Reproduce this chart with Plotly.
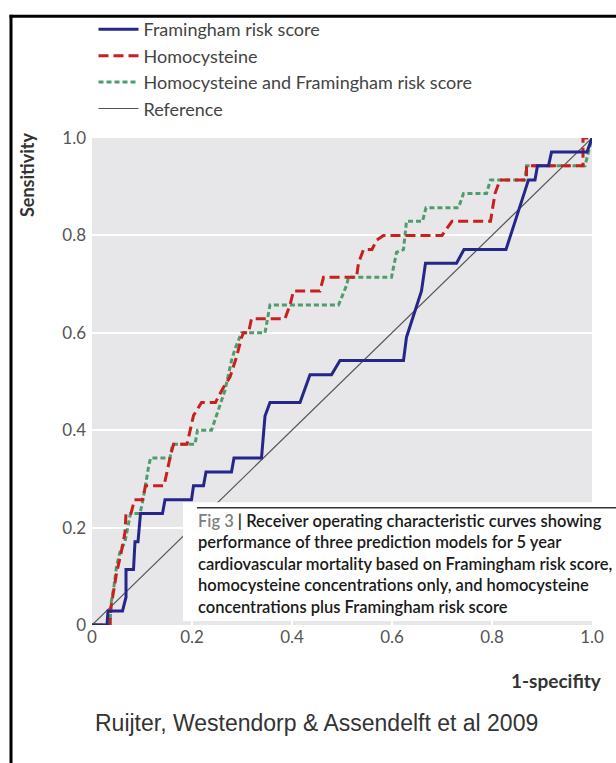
import plotly.graph_objects as go

# ---------------- data ----------------
fram_x = [0, 0.030, 0.032, 0.061, 0.068, 0.068, 0.083, 0.086, 0.092, 0.097, 0.141, 0.146,
          0.199, 0.203, 0.223, 0.228, 0.279, 0.284, 0.339, 0.346, 0.356, 0.416, 0.436,
          0.479, 0.496, 0.623, 0.629, 0.659, 0.667, 0.729, 0.744, 0.828, 0.873, 0.886,
          0.891, 0.913, 0.919, 0.990, 1.0]
fram_y = [0, 0, 0.029, 0.029, 0.057, 0.114, 0.114, 0.171, 0.171, 0.229, 0.229, 0.257,
          0.257, 0.286, 0.286, 0.314, 0.314, 0.343, 0.343, 0.429, 0.457, 0.457, 0.514,
          0.514, 0.543, 0.543, 0.591, 0.686, 0.743, 0.743, 0.771, 0.771, 0.914, 0.914,
          0.943, 0.943, 0.971, 0.971, 1.0]

hcy_x = [0, 0.036, 0.038, 0.049, 0.058, 0.066, 0.068, 0.078, 0.085, 0.101, 0.107, 0.144,
         0.156, 0.163, 0.190, 0.196, 0.203, 0.219, 0.247, 0.256, 0.263, 0.276, 0.289,
         0.299, 0.303, 0.313, 0.319, 0.386, 0.396, 0.403, 0.456, 0.463, 0.529, 0.533,
         0.543, 0.560, 0.569, 0.583, 0.700, 0.720, 0.797, 0.806, 0.816, 0.869, 0.869,
         0.982, 0.982, 1.0]
hcy_y = [0, 0, 0.037, 0.106, 0.147, 0.190, 0.229, 0.229, 0.257, 0.257, 0.286, 0.286,
         0.343, 0.371, 0.371, 0.400, 0.430, 0.457, 0.457, 0.475, 0.488, 0.509, 0.550,
         0.590, 0.600, 0.600, 0.629, 0.629, 0.657, 0.686, 0.686, 0.714, 0.714, 0.743,
         0.771, 0.771, 0.790, 0.800, 0.800, 0.829, 0.829, 0.886, 0.914, 0.914, 0.943,
         0.943, 1.0, 1.0]

comb_x = [0, 0.036, 0.038, 0.044, 0.049, 0.056, 0.066, 0.077, 0.096, 0.102, 0.113,
          0.117, 0.156, 0.161, 0.206, 0.211, 0.239, 0.256, 0.266, 0.279, 0.286, 0.299,
          0.346, 0.356, 0.493, 0.509, 0.513, 0.599, 0.609, 0.623, 0.629, 0.661, 0.668,
          0.733, 0.743, 0.789, 0.797, 0.866, 0.869, 0.986, 1.0]
comb_y = [0, 0, 0.044, 0.080, 0.120, 0.150, 0.171, 0.229, 0.229, 0.257, 0.324,
          0.343, 0.343, 0.371, 0.371, 0.400, 0.400, 0.454, 0.482, 0.543, 0.567, 0.600,
          0.600, 0.657, 0.657, 0.697, 0.714, 0.714, 0.765, 0.771, 0.829, 0.829, 0.857,
          0.857, 0.886, 0.886, 0.914, 0.914, 0.943, 0.943, 1.0]

ref_x = [0, 1]
ref_y = [0, 1]

tick_vals = [0, 0.2, 0.4, 0.6, 0.8, 1.0]
tick_text = ["0", "0.2", "0.4", "0.6", "0.8", "1.0"]

names = ["Framingham risk score", "Homocysteine",
         "Homocysteine and Framingham risk score", "Reference"]

caption_lines = [
    "<span style='color:#808080'>Fig 3</span> | Receiver operating characteristic curves showing",
    "performance of three prediction models for 5 year",
    "cardiovascular mortality based on Framingham risk score,",
    "homocysteine concentrations only, and homocysteine",
    "concentrations plus Framingham risk score",
]
source_text = "Ruijter, Westendorp & Assendelft et al 2009"

# ---------------- figure ----------------
fig = go.Figure()
fig.add_trace(go.Scatter(x=ref_x, y=ref_y, mode="lines", name=names[3], legendrank=4,
                         line=dict(color="#555555", width=1.2)))
fig.add_trace(go.Scatter(x=comb_x, y=comb_y, mode="lines", name=names[2], legendrank=3,
                         line=dict(color="#4f9c6c", width=3, dash="5px,3px")))
fig.add_trace(go.Scatter(x=hcy_x, y=hcy_y, mode="lines", name=names[1], legendrank=2,
                         line=dict(color="#c8201e", width=3, dash="10px,5px")))
fig.add_trace(go.Scatter(x=fram_x, y=fram_y, mode="lines", name=names[0], legendrank=1,
                         line=dict(color="#25258a", width=3)))

tick_font = dict(family="Lato", size=17, color="#555555")

fig.update_layout(
    width=616, height=763,
    margin=dict(l=92, r=24, t=137, b=138),
    paper_bgcolor="white", plot_bgcolor="#e7e6e8",
    showlegend=True,
    xaxis=dict(range=[0, 1], tickvals=tick_vals, ticktext=tick_text, showgrid=False,
               zeroline=False, showline=False, ticks="inside", tickcolor="white",
               ticklen=6, tickwidth=2, tickfont=tick_font),
    yaxis=dict(range=[0, 1], tickvals=tick_vals, ticktext=tick_text, showgrid=True,
               gridcolor="white", gridwidth=2, zeroline=False, showline=False,
               ticks="", tickfont=tick_font, ticklabelstandoff=5),
    legend=dict(x=0.003, y=1.258, xanchor="left", yanchor="top",
                font=dict(family="Lato", size=18, color="#444444"),
                bgcolor="rgba(0,0,0,0)", itemwidth=40),
    shapes=[
        dict(type="rect", xref="paper", yref="paper", x0=0.182, x1=1.1, y0=0.008, y1=0.252,
             fillcolor="white", line=dict(width=0), layer="above"),
        dict(type="line", xref="paper", yref="paper", x0=0.21, x1=1.1, y0=0.241, y1=0.241,
             line=dict(color="#333333", width=1.5), layer="above"),
        dict(type="line", xref="paper", yref="paper", x0=-0.162, x1=-0.162, y0=1.253, y1=-0.3,
             line=dict(color="black", width=3)),
        dict(type="line", xref="paper", yref="paper", x0=-0.165, x1=1.1, y0=1.25, y1=1.25,
             line=dict(color="black", width=3)),
    ],
    annotations=[
        dict(text="<b>Sensitivity</b>", xref="paper", yref="paper", x=-0.13, y=0.924,
             xanchor="center", yanchor="middle",
             textangle=-90, showarrow=False, font=dict(family="Lato", size=18, color="#333333")),
        dict(text="<b>1-specifity</b>", xref="paper", yref="paper", x=1.024, y=-0.113,
             xanchor="right", yanchor="middle", showarrow=False,
             font=dict(family="Lato", size=19, color="#333333")),
        dict(text=source_text, xref="paper", yref="paper", x=0.448, y=-0.2008,
             xanchor="center", yanchor="middle",
             showarrow=False, font=dict(family="Liberation Sans", size=23, color="#333333")),
        dict(text="<br>".join(caption_lines), xref="paper", yref="paper", x=0.208, y=0.238,
             xanchor="left", yanchor="top", align="left", showarrow=False,
             font=dict(family="Lato", size=16.5, color="#1a1a1a", weight=600)),
    ],
)

fig.write_html("out.html")
